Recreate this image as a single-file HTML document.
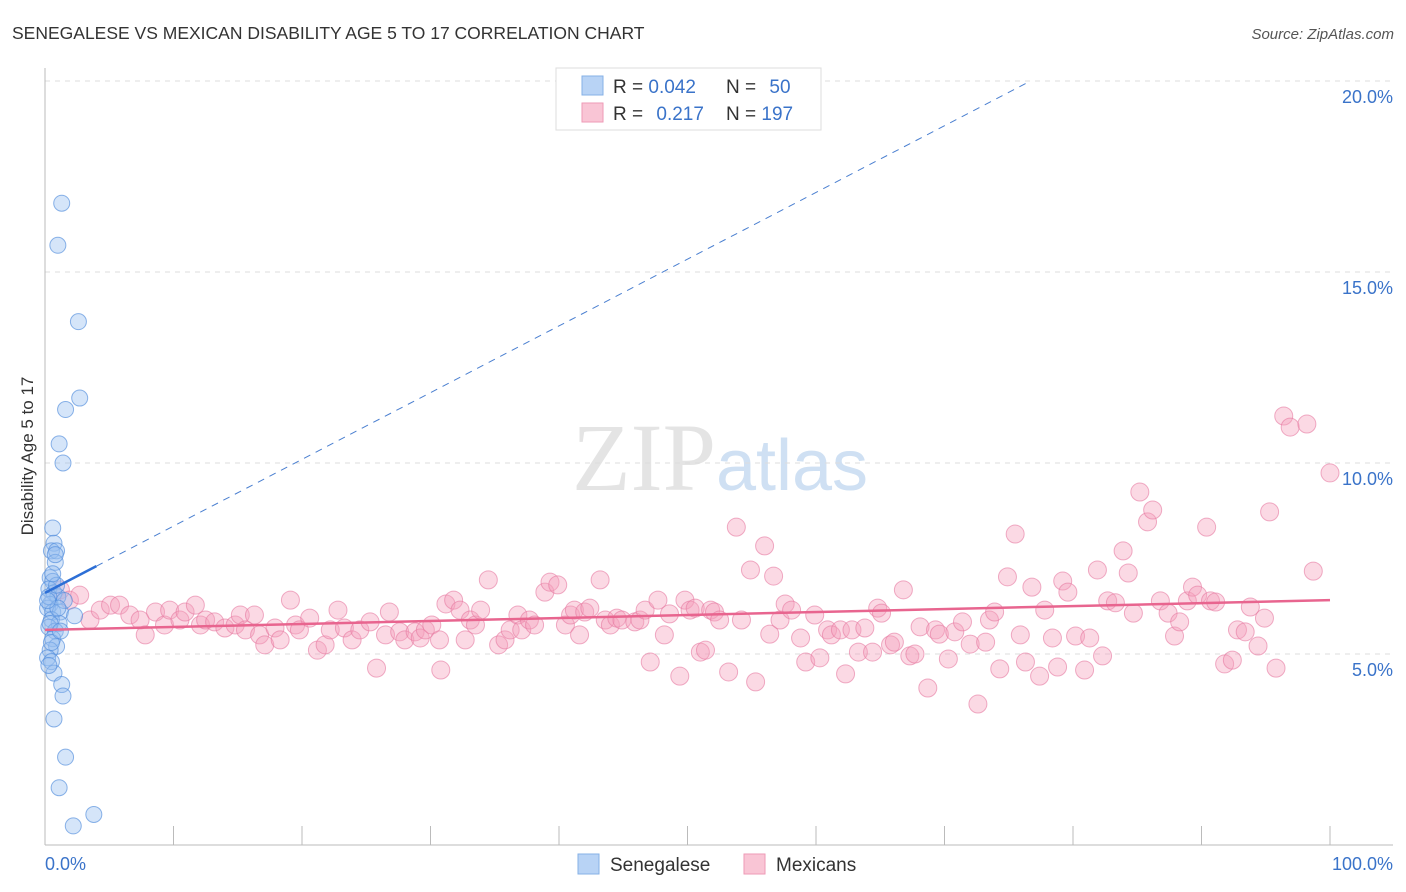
<!DOCTYPE html>
<html><head><meta charset="utf-8">
<style>
body{margin:0;background:#fff;font-family:"Liberation Sans",sans-serif;}
svg{display:block}
</style></head>
<body>
<svg id="chart" width="1406" height="892" xmlns="http://www.w3.org/2000/svg">
  <text x="12" y="39" font-size="17.5" fill="#333" font-family="Liberation Sans, sans-serif">SENEGALESE VS MEXICAN DISABILITY AGE 5 TO 17 CORRELATION CHART</text>
  <text x="1394" y="39" font-size="15" fill="#555" text-anchor="end" font-style="italic">Source: ZipAtlas.com</text>
  <text x="720" y="490" font-size="96" text-anchor="middle" fill="#e4e4e4" font-family="Liberation Serif, serif">ZIP<tspan fill="#cfe0f3" font-family="Liberation Sans, sans-serif" font-size="72">atlas</tspan></text>
  <g id="grid"></g>
  <g id="axes"></g>
  <g id="pink"></g>
  <g id="blue"></g>
  <g id="trends"></g>
  <text transform="translate(33,456) rotate(-90)" font-size="17" fill="#333" text-anchor="middle">Disability Age 5 to 17</text>
  <g>
    <rect x="556" y="68" width="265" height="62" fill="#fff" stroke="#ddd"/>
    <rect x="582" y="76" width="21" height="19" fill="#b8d3f5" stroke="#86b0e6"/>
    <rect x="582" y="103" width="21" height="19" fill="#f9c5d5" stroke="#ee9ab6"/>
    <text x="613" y="93" font-size="19" fill="#333">R = <tspan fill="#3a73c9">0.042</tspan></text>
    <text x="726" y="93" font-size="19" fill="#333">N = <tspan fill="#3a73c9" dx="8">50</tspan></text>
    <text x="613" y="120" font-size="19" fill="#333">R = <tspan fill="#3a73c9" dx="8">0.217</tspan></text>
    <text x="726" y="120" font-size="19" fill="#333">N = <tspan fill="#3a73c9">197</tspan></text>
  </g>
  <g>
    <rect x="578" y="854" width="21" height="20" fill="#b8d3f5" stroke="#86b0e6"/>
    <text x="610" y="871" font-size="19" fill="#333">Senegalese</text>
    <rect x="744" y="854" width="21" height="20" fill="#f9c5d5" stroke="#ee9ab6"/>
    <text x="776" y="871" font-size="19" fill="#333">Mexicans</text>
  </g>
</svg>
<script>
const xTickLabels = ["0.0%","100.0%"];
const yTicks = [5,10,15,20];
const yTickLabels = ["5.0%","10.0%","15.0%","20.0%"];
const blueX = [1.3,1.0,2.6,2.7,1.6,1.1,1.4,0.6,0.7,0.5,0.9,0.8,0.4,0.6,0.3,0.7,1.0,0.4,0.2,0.6,1.2,2.3,0.5,1.1,0.3,0.8,0.6,0.9,0.4,0.2,0.5,0.7,1.3,1.4,0.7,1.6,1.1,2.2,3.8,0.3,0.9,0.5,1.5,0.8,0.4,1.0,0.6,0.2,1.2,0.3];
const blueY = [16.8,15.7,13.7,11.7,11.4,10.5,10.0,8.3,7.9,7.7,7.7,7.4,7.0,6.9,6.7,6.6,6.5,6.3,6.2,6.1,6.1,6.0,5.9,5.8,5.7,5.6,5.4,5.2,5.1,4.9,4.8,4.5,4.2,3.9,3.3,2.3,1.5,0.5,0.8,6.5,6.8,5.3,6.4,7.6,5.8,6.2,7.1,6.4,5.6,4.7];
const pinkX = [1.2,1.9,2.7,3.5,4.3,5.1,5.8,6.6,7.4,7.8,8.6,9.3,9.7,10.5,10.9,11.7,12.1,12.5,13.2,14.0,14.8,15.2,15.6,16.3,16.7,17.1,17.9,18.3,19.1,19.5,19.8,20.6,21.2,21.8,22.2,22.8,23.3,23.9,24.5,25.3,25.8,26.5,26.8,27.6,28.0,28.8,29.2,29.6,30.1,30.7,30.8,31.2,31.8,32.3,32.7,33.1,33.5,33.9,34.5,35.3,35.8,36.2,36.8,37.1,37.7,38.1,38.9,39.3,39.9,40.5,40.9,41.2,41.6,42.0,42.4,43.2,43.6,44.0,44.5,44.9,45.9,46.3,46.7,47.1,47.7,48.2,48.6,49.4,49.8,50.2,50.6,51.0,51.4,51.8,52.1,52.5,53.2,53.8,54.2,54.9,55.3,56.0,56.4,56.7,57.2,57.6,58.1,58.8,59.2,59.9,60.3,60.9,61.2,61.9,62.3,62.8,63.3,63.8,64.4,64.8,65.1,65.8,66.1,66.8,67.3,67.7,68.1,68.7,69.3,69.6,70.3,70.8,71.4,72.0,72.6,73.2,73.5,73.9,74.3,74.9,75.5,75.9,76.3,76.8,77.4,77.8,78.4,78.8,79.2,79.6,80.2,80.9,81.3,81.9,82.3,82.7,83.3,83.9,84.3,84.7,85.2,85.8,86.2,86.8,87.4,87.9,88.3,88.9,89.3,89.7,90.4,90.7,91.1,91.8,92.4,92.8,93.4,93.8,94.4,94.9,95.3,95.8,96.4,96.9,98.2,98.7,100];
const pinkY = [6.68,6.41,6.54,5.89,6.15,6.28,6.28,6.02,5.89,5.50,6.10,5.76,6.15,5.89,6.10,6.28,5.76,5.89,5.84,5.68,5.76,6.02,5.63,6.02,5.50,5.24,5.68,5.37,6.41,5.76,5.63,5.94,5.10,5.24,5.63,6.15,5.68,5.37,5.63,5.84,4.63,5.50,6.10,5.58,5.37,5.58,5.42,5.63,5.76,5.37,4.58,6.31,6.41,6.15,5.37,5.89,5.76,6.15,6.94,5.24,5.37,5.63,6.02,5.63,5.89,5.76,6.62,6.88,6.81,5.76,6.02,6.15,5.50,6.10,6.20,6.94,5.89,5.76,5.94,5.89,5.84,5.89,6.15,4.79,6.41,5.50,6.05,4.42,6.41,6.15,6.20,5.05,5.10,6.15,6.10,5.89,4.53,8.32,5.89,7.20,4.27,7.83,5.52,7.04,5.89,6.31,6.15,5.42,4.79,6.02,4.90,5.63,5.50,5.63,4.48,5.63,5.05,5.68,5.05,6.20,6.07,5.24,5.31,6.68,4.95,5.00,5.71,4.11,5.63,5.52,4.87,5.58,5.84,5.26,3.69,5.31,5.89,6.10,4.61,7.02,8.14,5.50,4.79,6.75,4.42,6.15,5.42,4.66,6.91,6.62,5.47,4.58,5.42,7.20,4.95,6.39,6.34,7.70,7.12,6.07,9.24,8.46,8.77,6.39,6.07,5.47,5.84,6.39,6.75,6.54,8.32,6.39,6.36,4.74,4.84,5.63,5.58,6.23,5.21,5.94,8.72,4.63,11.23,10.94,11.02,7.17,9.74];
const pinkTrend = [5.63,6.41];
const blueTrend = [6.6,7.3];
const blueTrendDashEnd = [76.7,20.0];

const NS="http://www.w3.org/2000/svg";
const X0=45,X1=1330,Y0=845,PX=(Y0-81)/20;
function xs(v){return X0+(X1-X0)*v/100;}
function ys(v){return Y0-PX*v;}
function mk(tag,attrs,parent){const e=document.createElementNS(NS,tag);for(const k in attrs)e.setAttribute(k,attrs[k]);parent.appendChild(e);return e;}
const grid=document.getElementById('grid'),axes=document.getElementById('axes');
yTicks.forEach((t,i)=>{
  const l=mk('line',{x1:45,x2:1393,y1:ys(t),y2:ys(t),stroke:'#dcdcdc','stroke-dasharray':'5,5'},grid);
  
  
  const tx=mk('text',{x:1393,y:ys(t)+22,'font-size':18,fill:'#3a73c9','text-anchor':'end'},axes);
  tx.textContent=yTickLabels[i];
  
  
});
const ax=mk('line',{x1:45,x2:1393,y1:Y0,y2:Y0,stroke:'#bbb'},axes);


const ay=mk('line',{x1:45,x2:45,y1:68,y2:Y0,stroke:'#bbb'},axes);


for(let i=0;i<=10;i++){
  const t=mk('line',{x1:xs(i*10),x2:xs(i*10),y1:Y0,y2:Y0-19,stroke:'#bbb'},axes);
  
  
}
[[0,'start',45],[1,'end',1393]].forEach(([i,a,x])=>{
  const t=mk('text',{x:x,y:870,'font-size':18,fill:'#3a73c9','text-anchor':a},axes);
  t.textContent=xTickLabels[i];
  
  
});
const pink=document.getElementById('pink');
pinkX.forEach((x,i)=>{
  const c=mk('circle',{cx:xs(x),cy:ys(pinkY[i]),r:9,fill:'rgba(244,160,188,0.4)',stroke:'rgba(230,120,160,0.6)','stroke-width':1},pink);
  
  
});
const blue=document.getElementById('blue');
blueX.forEach((x,i)=>{
  const c=mk('circle',{cx:xs(x),cy:ys(blueY[i]),r:8,fill:'rgba(150,190,240,0.4)',stroke:'rgba(80,140,220,0.65)','stroke-width':1},blue);
  
  
});
const tr=document.getElementById('trends');
const pl=mk('line',{x1:xs(0),y1:ys(pinkTrend[0]),x2:xs(100),y2:ys(pinkTrend[1]),stroke:'#e8658f','stroke-width':2.5},tr);


const bd=mk('line',{x1:xs(4),y1:ys(blueTrend[1]),x2:xs(blueTrendDashEnd[0]),y2:ys(blueTrendDashEnd[1]),stroke:'#4a7fd0','stroke-width':1,'stroke-dasharray':'7,6'},tr);


const bl=mk('line',{x1:xs(0),y1:ys(blueTrend[0]),x2:xs(4),y2:ys(blueTrend[1]),stroke:'#2d6fd6','stroke-width':2.5},tr);


</script>
</body></html>
